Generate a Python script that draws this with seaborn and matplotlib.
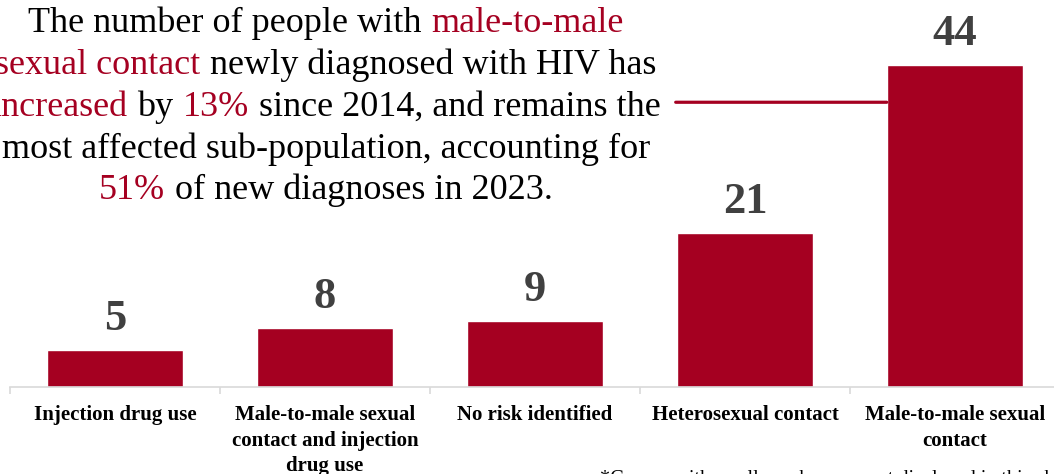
import matplotlib
matplotlib.use("Agg")
import matplotlib.pyplot as plt
from matplotlib.offsetbox import TextArea, HPacker, VPacker, AnchoredOffsetbox
from matplotlib.ticker import FixedLocator
import seaborn as sns

# Données du graphique
categories = [
    "Injection drug use",
    "Male-to-male sexual\ncontact and injection\ndrug use",
    "No risk identified",
    "Heterosexual contact",
    "Male-to-male sexual\ncontact",
]
values = [5, 8, 9, 21, 44]

# Texte d'annotation: (segment, rouge?)
note_lines = [
    [("The number of people with", False), ("male-to-male", True)],
    [("sexual contact", True), ("newly diagnosed with HIV has", False)],
    [("increased", True), ("by", False), ("13%", True), ("since 2014, and remains the", False)],
    [("most affected sub-population, accounting for", False)],
    [("51%", True), ("of new diagnoses in 2023.", False)],
]
footnote = "*Groups with small numbers are not displayed in this chart."

RED = "#A50021"
GREY = "#404040"
SERIF = "Liberation Serif"

sns.set_theme(style="white")
plt.rcParams["font.family"] = [SERIF, "DejaVu Serif"]

fig = plt.figure(figsize=(10.54, 4.74), dpi=100)
W, H = 1054, 474
ax = fig.add_axes([10 / W, 87 / H, 1050 / W, 387 / H])

sns.barplot(x=categories, y=values, color=RED, saturation=1, width=0.65, ax=ax)

ax.set_xlim(-0.5, 4.5)
ax.set_ylim(0, 387 / 7.32)
ax.set_xlabel("")
ax.set_ylabel("")
ax.set_yticks([])
for s in ["top", "left", "right"]:
    ax.spines[s].set_visible(False)
ax.spines["bottom"].set_color("#d9d9d9")
ax.spines["bottom"].set_linewidth(1.2)

# Étiquettes des catégories
ax.tick_params(axis="x", which="major", length=0, pad=13)
for lbl in ax.get_xticklabels():
    lbl.set_fontsize(15)
    lbl.set_fontweight("bold")
    lbl.set_color("black")
    lbl.set_linespacing(1.38)
    lbl.set_verticalalignment("top")
ax.xaxis.set_minor_locator(FixedLocator([i - 0.5 for i in range(len(values) + 1)]))
ax.tick_params(axis="x", which="minor", bottom=True, length=5, width=1.2,
               color="#d9d9d9", direction="out")

# Valeurs au-dessus des barres
ax.bar_label(ax.containers[0], labels=[str(v) for v in values], padding=8,
             fontsize=32, fontweight="bold", color=GREY)

# Ligne de rappel vers la barre principale
bar = ax.patches[len(values) - 1]
ax.annotate("", xy=(bar.get_x(), 38.9), xytext=(2.67, 38.9),
            arrowprops=dict(arrowstyle="-", color=RED, lw=2.3, shrinkA=0, shrinkB=0))

# Bloc de texte multicolore
rows = []
for line in note_lines:
    parts = [TextArea(txt, textprops=dict(color=RED if red else "black", fontsize=26,
                                          family=SERIF))
             for txt, red in line]
    rows.append(HPacker(children=parts, align="baseline", pad=0, sep=7))
block = VPacker(children=rows, align="center", pad=0, sep=6)
anchored = AnchoredOffsetbox(loc="center", child=block, pad=0, frameon=False,
                             bbox_to_anchor=(326 / W, 1 - 107 / H),
                             bbox_transform=fig.transFigure, borderpad=0)
fig.add_artist(anchored)

fig.text(600 / W, 1 - 470 / H, footnote, fontsize=14.5, color="black", va="top", ha="left")

fig.savefig("out.png", dpi=100)
